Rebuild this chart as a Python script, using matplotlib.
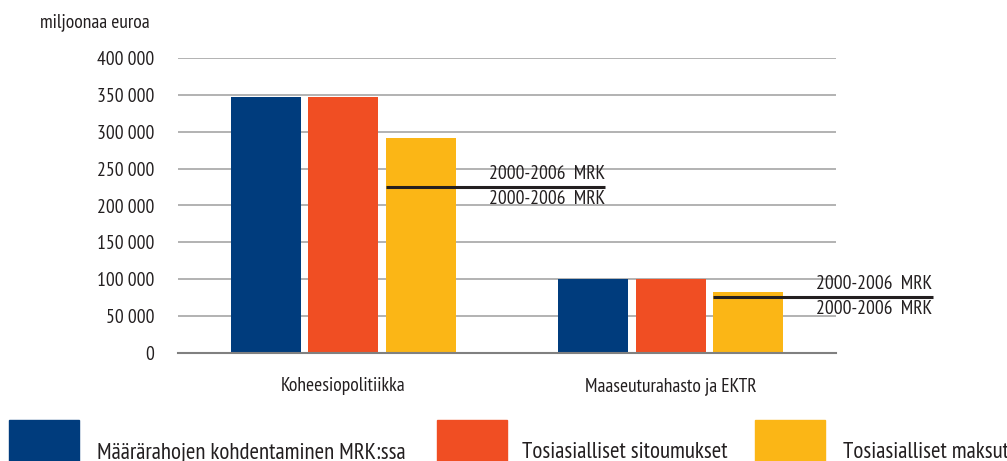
import matplotlib
matplotlib.use("Agg")
import matplotlib.pyplot as plt
import numpy as np
from matplotlib.patches import Rectangle

plt.rcParams['font.family'] = ['PT Sans Narrow', 'Open Sans Condensed', 'DejaVu Sans']

# Data (miljoonaa euroa)
categories = ["Koheesiopolitiikka", "Maaseuturahasto ja EKTR"]
series_names = ["Määrärahojen kohdentaminen MRK:ssa",
                "Tosiasialliset sitoumukset",
                "Tosiasialliset maksut"]
allocation = [347500, 100500]
commitments = [347500, 100500]
payments = [291000, 82500]
mrk_2000_2006 = [225000, 76000]
yticks = [0, 50000, 100000, 150000, 200000, 250000, 300000, 350000, 400000]

colors = ["#003c7d", "#f04e23", "#fbb616"]
text_col = "#231f20"

fig = plt.figure(figsize=(10.07, 4.61), dpi=100, facecolor="white")
ax = fig.add_axes([178 / 1007, 1 - 353 / 461, (836 - 178) / 1007, 295 / 461])

x = np.arange(len(categories))
width = 0.214
step = 0.236
for i, (vals, c) in enumerate(zip([allocation, commitments, payments], colors)):
    ax.bar(x + (i - 1) * step, vals, width=width, color=c, zorder=3)

# 2000-2006 MRK reference lines
for xi, v in zip(x, mrk_2000_2006):
    x0 = xi + step - width / 2
    x1 = xi + 0.80
    ax.plot([x0, x1], [v, v], color=text_col, lw=2.2, zorder=4,
            clip_on=False, solid_capstyle='butt')
    ax.text(x1, v + 6000, "2000-2006  MRK", ha='right', va='bottom',
            fontsize=14, color=text_col)
    ax.text(x1, v - 4500, "2000-2006  MRK", ha='right', va='top',
            fontsize=14, color=text_col)

ax.set_xlim(-0.505, 1.505)
ax.set_ylim(0, 400000)
ax.set_yticks(yticks)
ax.set_yticklabels([f"{t:,}".replace(",", " ") for t in yticks],
                   fontsize=14, color=text_col)
ax.set_xticks(x)
ax.set_xticklabels(categories, fontsize=14, color=text_col)
ax.tick_params(axis='both', length=0)
ax.tick_params(axis='y', pad=17)
ax.tick_params(axis='x', pad=17)
ax.grid(axis='y', color="#a6a6a6", lw=1.2, zorder=0)
for s in ["top", "right", "left"]:
    ax.spines[s].set_visible(False)
ax.spines["bottom"].set_color("#808080")
ax.spines["bottom"].set_linewidth(1.5)
ax.spines["bottom"].set_zorder(5)

fig.text(150 / 1007, 1 - 22 / 461, "miljoonaa euroa", ha='right', va='center',
         fontsize=14, color=text_col)

# Legend drawn at the bottom edge
leg_x = [9, 437, 755]
txt_x = [97, 522, 843]
for lx, tx, c, name in zip(leg_x, txt_x, colors, series_names):
    fig.add_artist(Rectangle((lx / 1007, -0.05), 70 / 1007, 0.05 + 41 / 461,
                             transform=fig.transFigure, color=c))
    fig.text(tx / 1007, 3 / 461, name, ha='left', va='baseline',
             fontsize=16.5, color=text_col)

fig.savefig("out.png", dpi=100, facecolor="white")
